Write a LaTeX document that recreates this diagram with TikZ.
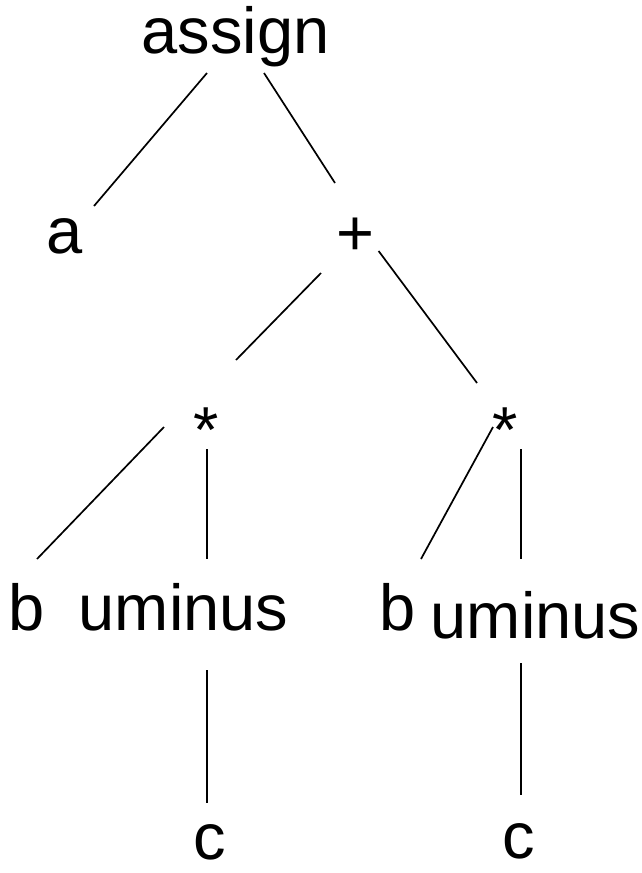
\documentclass[tikz,border=0pt]{standalone}
\usepackage{fontspec}
\setmainfont{Liberation Sans}
\begin{document}
\begin{tikzpicture}[x=1pt,y=-1pt,
  lbl/.style={anchor=base,inner sep=0pt,font=\fontsize{65}{78}\selectfont},
  edge/.style={line width=1.7pt}]
\useasboundingbox (0,0) rectangle (641,873);
% labels
\node[lbl] (assign) at (235.5,53) {assign};
\node[lbl] (a) at (65,253) {a};
\node[lbl] (plus) at (355,255) {+};
\node[lbl] (m1) at (206.5,452) {*};
\node[lbl] (m2) at (505.5,452) {*};
\node[lbl] (b1) at (27,630) {b};
\node[lbl] (u1) at (183.5,630) {uminus};
\node[lbl] (b2) at (397.5,630) {b};
\node[lbl] (u2) at (535.5,638) {uminus};
\node[lbl] (c1) at (209.5,859) {c};
\node[lbl] (c2) at (519,858) {c};
% connector end points
\coordinate (e1s) at (207,73);   \coordinate (e1t) at (94,206);
\coordinate (e2s) at (264,73);   \coordinate (e2t) at (335,183);
\coordinate (e3s) at (321,273);  \coordinate (e3t) at (236,360);
\coordinate (e4s) at (378.6,251);\coordinate (e4t) at (477,383);
\coordinate (e5s) at (164,427);  \coordinate (e5t) at (37,559);
\coordinate (e6s) at (207,449);  \coordinate (e6t) at (207,559);
\coordinate (e7s) at (493,427);  \coordinate (e7t) at (421,559);
\coordinate (e8s) at (521,449);  \coordinate (e8t) at (521,559);
\coordinate (e9s) at (207,670);  \coordinate (e9t) at (207,803);
\coordinate (e10s) at (521,663); \coordinate (e10t) at (521,795);
\draw[edge] (e1s) -- (e1t);
\draw[edge] (e2s) -- (e2t);
\draw[edge] (e3s) -- (e3t);
\draw[edge] (e4s) -- (e4t);
\draw[edge] (e5s) -- (e5t);
\draw[edge] (e6s) -- (e6t);
\draw[edge] (e7s) -- (e7t);
\draw[edge] (e8s) -- (e8t);
\draw[edge] (e9s) -- (e9t);
\draw[edge] (e10s) -- (e10t);
\end{tikzpicture}
\end{document}
